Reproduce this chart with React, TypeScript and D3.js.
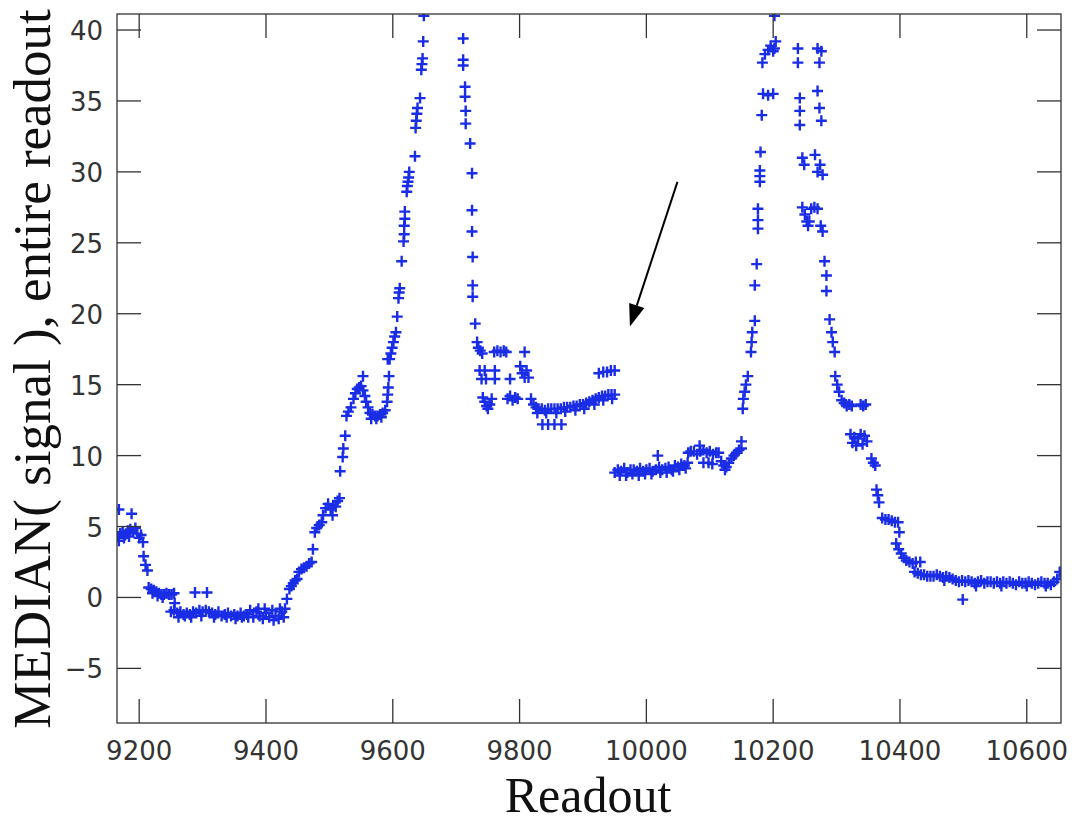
import React from "react";
import * as d3 from "d3";

// readout, median signal
const leftShoulder: [number, number][] = [
  [9166, 4.3], [9168, 6.2], [9170, 4.5], [9174, 4.6], [9178, 4.4], [9182, 4.7],
  [9186, 4.8], [9188, 5.9], [9190, 4.6], [9194, 4.9], [9197, 4.5], [9200, 4.2],
  [9203, 4.4], [9206, 3.9], [9207, 2.9], [9210, 2.3], [9213, 1.9], [9168, 4.0],
  [9176, 4.2], [9184, 4.3],
  [9215, 0.7], [9219, 0.6], [9223, 0.5], [9227, 0.4], [9231, 0.3], [9235, 0.2],
  [9239, 0.2], [9243, 0.3], [9247, 0.2], [9251, 0.2], [9255, 0.3], [9256, -0.4],
  [9221, 0.3], [9229, 0.1], [9237, 0.0],
];

const lowFloor: [number, number][] = [
  [9288, 0.35], [9307, 0.35],
  [9250, -1.0], [9255, -0.9], [9260, -1.1], [9265, -1.0], [9270, -1.2], [9275, -1.1],
  [9280, -1.2], [9285, -1.0], [9290, -1.1], [9295, -0.9], [9300, -1.0], [9305, -0.9],
  [9310, -1.0], [9315, -1.1], [9320, -1.2], [9325, -1.0], [9330, -1.3], [9335, -1.2],
  [9340, -1.1], [9345, -1.3], [9350, -1.2], [9355, -1.3], [9360, -1.1], [9365, -1.3],
  [9370, -1.2], [9375, -0.9], [9380, -1.4], [9385, -1.0], [9390, -1.3], [9395, -1.5],
  [9400, -1.1], [9405, -1.4], [9410, -0.9], [9415, -1.3], [9420, -1.5], [9425, -1.0],
  [9428, -1.4], [9430, -0.8],
  [9262, -1.4], [9272, -1.3], [9282, -1.4], [9298, -1.3], [9318, -1.4], [9338, -1.4],
  [9352, -1.5], [9362, -1.4], [9372, -1.4], [9388, -0.8], [9398, -0.8], [9412, -1.6],
  [9422, -0.8],
];

const firstRise: [number, number][] = [
  [9433, -0.1], [9437, 0.6], [9440, 0.8], [9443, 1.0], [9446, 1.2], [9449, 1.3],
  [9452, 1.8], [9456, 2.0], [9460, 2.1], [9464, 2.2], [9468, 2.4], [9472, 2.5],
  [9474, 3.4], [9477, 4.6], [9480, 4.9], [9484, 5.1], [9488, 5.3], [9490, 5.8],
  [9494, 6.3], [9498, 6.6], [9502, 6.2], [9505, 5.8], [9506, 6.5], [9510, 6.4],
  [9513, 6.8], [9516, 7.0], [9517, 8.9], [9521, 9.9], [9522, 10.5], [9525, 11.4],
  [9527, 12.8], [9530, 13.1], [9534, 13.4], [9538, 14.0], [9541, 14.4], [9544, 14.7],
  [9547, 14.8], [9550, 14.9], [9553, 15.6], [9553, 14.6], [9556, 14.2], [9558, 13.8],
  [9561, 13.4], [9564, 13.0], [9568, 12.9], [9572, 12.8], [9576, 12.8], [9580, 12.9],
  [9584, 13.0], [9588, 13.2], [9591, 13.8], [9592, 14.3], [9593, 14.8], [9594, 15.6],
  [9592, 16.8], [9566, 12.6], [9574, 12.6], [9582, 12.7],
];

const firstPeak: [number, number][] = [
  [9595, 16.8], [9597, 17.2], [9599, 17.6], [9601, 18.0], [9603, 18.4], [9605, 18.7],
  [9607, 19.8], [9609, 21.1], [9610, 21.5], [9611, 21.8], [9614, 23.7], [9617, 25.1],
  [9618, 25.6], [9618, 26.2], [9619, 26.7], [9619, 27.2], [9622, 28.6], [9623, 29.0],
  [9624, 29.3], [9625, 29.6], [9626, 30.0], [9635, 31.1], [9636, 33.1], [9637, 33.6],
  [9638, 34.1], [9639, 34.5], [9643, 35.2], [9645, 37.2], [9646, 37.6], [9647, 38.0],
  [9648, 39.2], [9649, 41.0],
  [9711, 39.4], [9711, 37.9], [9711, 37.5], [9714, 36.0], [9714, 35.3], [9715, 34.3],
  [9715, 33.4], [9722, 32.0], [9725, 29.9], [9725, 27.3], [9725, 25.8], [9726, 24.0],
  [9726, 22.0], [9726, 21.2], [9730, 19.3], [9733, 18.0], [9735, 17.6], [9738, 17.4],
  [9741, 17.2],
];

const midPlateau: [number, number][] = [
  [9737, 16.0], [9740, 15.4], [9745, 16.0], [9747, 15.4], [9761, 16.0], [9761, 15.4],
  [9785, 15.4], [9742, 14.1], [9745, 13.8], [9748, 13.5], [9750, 13.3], [9753, 13.6],
  [9756, 14.0], [9760, 17.3], [9765, 17.4], [9770, 17.3], [9775, 17.4], [9779, 17.3],
  [9808, 17.3], [9801, 16.3], [9804, 15.8], [9808, 15.5], [9811, 16.0], [9814, 15.5],
  [9781, 14.0], [9785, 14.2], [9789, 13.9], [9793, 14.1], [9797, 14.0],
  [9818, 14.0], [9822, 13.6], [9826, 13.4], [9830, 13.3], [9835, 13.3], [9840, 13.2],
  [9845, 13.3], [9850, 13.3], [9855, 13.3], [9860, 13.3], [9865, 13.3], [9870, 13.4],
  [9875, 13.4], [9880, 13.4], [9885, 13.5], [9890, 13.5], [9895, 13.6], [9900, 13.6],
  [9905, 13.7], [9910, 13.8], [9915, 13.9], [9920, 14.0], [9925, 14.1], [9930, 14.2],
  [9935, 14.2], [9940, 14.3], [9945, 14.3], [9950, 14.3],
  [9828, 13.0], [9842, 13.0], [9858, 13.0], [9872, 13.1], [9888, 13.2], [9902, 13.3],
  [9918, 13.6], [9932, 13.9], [9946, 14.0],
  [9836, 12.2], [9845, 12.2], [9855, 12.2], [9866, 12.2],
  [9925, 15.8], [9932, 15.9], [9938, 15.9], [9944, 16.0], [9950, 16.0],
];

const lowPlateau: [number, number][] = [
  [9950, 8.8], [9955, 9.0], [9960, 8.9], [9965, 9.1], [9970, 8.8], [9975, 9.0],
  [9980, 9.0], [9985, 8.9], [9990, 9.1], [9995, 8.9], [10000, 9.0], [10005, 9.1],
  [10010, 8.9], [10015, 9.0], [10018, 10.0], [10020, 9.2], [10025, 9.0], [10030, 9.1],
  [10035, 9.2], [10040, 9.0], [10045, 9.3], [10050, 9.2], [10055, 9.4], [10060, 9.3],
  [10065, 9.5], [10066, 10.2], [10070, 10.3], [10075, 10.3], [10080, 10.1], [10084, 10.7],
  [10085, 10.3], [10090, 10.4], [10095, 10.2], [10100, 10.3], [10105, 10.1], [10110, 10.2],
  [10114, 10.2], [10090, 9.5], [10098, 9.5], [10104, 9.4], [10118, 9.6], [10122, 9.3],
  [10126, 9.2], [10130, 9.5], [10134, 9.8], [10138, 10.0], [10142, 10.2], [10146, 10.4],
  [10150, 11.0], [10150, 10.5],
  [9958, 8.6], [9968, 8.6], [9978, 8.7], [9988, 8.6], [9998, 8.7], [10008, 8.7],
  [10022, 8.8], [10032, 8.8], [10042, 8.9], [10052, 9.0], [10062, 9.1], [10124, 9.0],
];

const secondPeak: [number, number][] = [
  [10152, 13.3], [10153, 14.0], [10155, 14.5], [10157, 15.0], [10160, 15.6], [10165, 17.3],
  [10166, 18.0], [10167, 18.7], [10171, 19.5], [10171, 22.0], [10174, 23.5], [10176, 26.0],
  [10176, 26.6], [10176, 27.4], [10179, 29.3], [10179, 29.7], [10179, 30.1], [10180, 31.4],
  [10182, 34.0], [10184, 35.5], [10192, 35.4], [10200, 35.5], [10183, 37.7], [10187, 38.3],
  [10192, 38.6], [10196, 38.9], [10200, 38.5], [10202, 38.7], [10204, 39.2], [10202, 41.0],
  [10239, 38.7], [10239, 37.7], [10270, 38.7], [10273, 37.7], [10276, 38.5],
  [10242, 35.2], [10242, 34.3], [10242, 33.3], [10270, 35.7], [10273, 34.5], [10276, 33.6],
  [10246, 31.0], [10249, 30.5], [10266, 31.2], [10270, 30.0], [10274, 30.5], [10278, 29.8],
  [10246, 27.5], [10250, 27.0], [10253, 26.5], [10255, 26.2], [10257, 26.5], [10260, 27.4],
  [10265, 27.5], [10270, 27.4], [10275, 26.2], [10278, 25.8], [10281, 23.7], [10284, 22.7],
  [10284, 21.6], [10289, 19.6], [10292, 18.7], [10294, 18.0], [10297, 17.3], [10298, 15.6],
  [10301, 15.0], [10304, 14.5],
];

const secondFall: [number, number][] = [
  [10308, 13.9], [10312, 13.7], [10316, 13.5], [10320, 13.6], [10324, 13.5], [10338, 13.6],
  [10342, 13.5], [10346, 13.6], [10322, 11.5], [10325, 10.9], [10328, 11.3], [10331, 10.7],
  [10334, 11.2], [10338, 11.5], [10341, 10.8], [10344, 11.4], [10348, 11.0], [10355, 9.8],
  [10358, 9.5], [10361, 9.3], [10363, 7.6], [10365, 7.2], [10367, 6.7], [10372, 5.6],
  [10377, 5.5], [10382, 5.5], [10387, 5.4], [10392, 5.3], [10397, 5.3], [10399, 4.6],
  [10394, 3.8], [10398, 3.4], [10402, 3.1], [10406, 2.8], [10410, 2.6], [10415, 2.5],
  [10420, 2.4], [10425, 2.5], [10432, 2.5],
];

const rightTail: [number, number][] = [
  [10423, 1.8], [10428, 1.7], [10433, 1.6], [10438, 1.6], [10443, 1.5], [10448, 1.5],
  [10453, 1.5], [10458, 1.6], [10463, 1.5], [10468, 1.4], [10473, 1.5], [10478, 1.4],
  [10483, 1.3], [10488, 1.2], [10493, 1.1], [10498, 1.2], [10499, -0.15], [10503, 1.1],
  [10508, 1.2], [10513, 1.1], [10518, 1.0], [10523, 1.1], [10528, 1.2], [10533, 1.0],
  [10538, 1.1], [10543, 1.1], [10548, 1.0], [10553, 1.1], [10558, 1.0], [10563, 1.1],
  [10568, 1.0], [10573, 1.1], [10578, 1.0], [10583, 0.9], [10588, 1.1], [10593, 1.0],
  [10598, 1.0], [10603, 1.1], [10608, 1.0], [10613, 0.9], [10618, 1.0], [10623, 1.1],
  [10628, 1.0], [10633, 1.0], [10638, 0.9], [10643, 1.1], [10648, 1.3], [10652, 1.8],
  [10470, 1.2], [10520, 0.8], [10560, 0.8], [10600, 0.8], [10630, 0.8],
];

const xTicks = [9200, 9400, 9600, 9800, 10000, 10200, 10400, 10600];
const yTicks = [-5, 0, 5, 10, 15, 20, 25, 30, 35, 40];

// arrow annotation, in data units: tail -> tip
const arrowTail: [number, number] = [10049, 29.3];
const arrowTip: [number, number] = [9974, 19.1];

export default function App() {
  const W = 1076, H = 823;
  const m = { left: 117, right: 1061, top: 14, bottom: 723 };

  const x = d3.scaleLinear().domain([9165, 10654]).range([m.left, m.right]);
  const y = d3.scaleLinear().domain([-8.85, 41.13]).range([m.bottom, m.top]);

  const points = [
    ...leftShoulder, ...lowFloor, ...firstRise, ...firstPeak, ...midPlateau,
    ...lowPlateau, ...secondPeak, ...secondFall, ...rightTail,
  ];

  const blue = "#1a2de6";
  const axisCol = "#333";
  const tickLen = 24;
  const arm = 5.5;

  const plus = points
    .map(([r, v]) => {
      const px = x(r), py = y(v);
      return `M${px - arm},${py}H${px + arm}M${px},${py - arm}V${py + arm}`;
    })
    .join("");

  // arrow head
  const tx = x(arrowTip[0]), ty = y(arrowTip[1]);
  const sx = x(arrowTail[0]), sy = y(arrowTail[1]);
  const ang = Math.atan2(ty - sy, tx - sx);
  const hl = 22, hw = 8;
  const bx = tx - hl * Math.cos(ang), by = ty - hl * Math.sin(ang);
  const head = [
    [tx, ty],
    [bx + hw * Math.sin(ang), by - hw * Math.cos(ang)],
    [bx - hw * Math.sin(ang), by + hw * Math.cos(ang)],
  ].map(p => p.join(",")).join(" ");

  return (
    <div style={{ position: "absolute", left: 0, top: 0 }}>
      <svg width={W} height={H} style={{ display: "block", background: "#fff" }}>
        <defs>
          <clipPath id="plotClip">
            <rect x={m.left} y={m.top} width={m.right - m.left} height={m.bottom - m.top} />
          </clipPath>
        </defs>

        <g clipPath="url(#plotClip)">
          <path d={plus} stroke={blue} strokeWidth={2.4} fill="none" />
        </g>

        <g stroke={axisCol} strokeWidth={1.3}>
          <rect x={m.left} y={m.top} width={m.right - m.left} height={m.bottom - m.top} fill="none" />
          {xTicks.map(t => (
            <g key={"x" + t}>
              <line x1={x(t)} x2={x(t)} y1={m.bottom} y2={m.bottom - tickLen} />
              <line x1={x(t)} x2={x(t)} y1={m.top} y2={m.top + tickLen} />
            </g>
          ))}
          {yTicks.map(t => (
            <g key={"y" + t}>
              <line x1={m.left} x2={m.left + tickLen} y1={y(t)} y2={y(t)} />
              <line x1={m.right} x2={m.right - tickLen} y1={y(t)} y2={y(t)} />
            </g>
          ))}
        </g>

        <g fontFamily="DejaVu Sans, sans-serif" fontSize={26} fill="#333">
          {xTicks.map(t => (
            <text key={"xl" + t} x={x(t)} y={m.bottom + 37} textAnchor="middle">{t}</text>
          ))}
          {yTicks.map(t => (
            <text key={"yl" + t} x={m.left - 14} y={y(t) + 10} textAnchor="end">
              {t < 0 ? "\u2212" + Math.abs(t) : t}
            </text>
          ))}
        </g>

        <text x={588} y={812} textAnchor="middle" fontFamily="Liberation Serif, serif" fontSize={50} fill="#111">
          Readout
        </text>
        <text
          transform={`translate(50, 369) rotate(-90)`}
          textAnchor="middle"
          fontFamily="Liberation Serif, serif"
          fontSize={53}
          fill="#111"
        >
          MEDIAN( signal ), entire readout
        </text>

        <line x1={sx} y1={sy} x2={bx} y2={by} stroke="#000" strokeWidth={2} />
        <polygon points={head} fill="#000" />
      </svg>
    </div>
  );
}
